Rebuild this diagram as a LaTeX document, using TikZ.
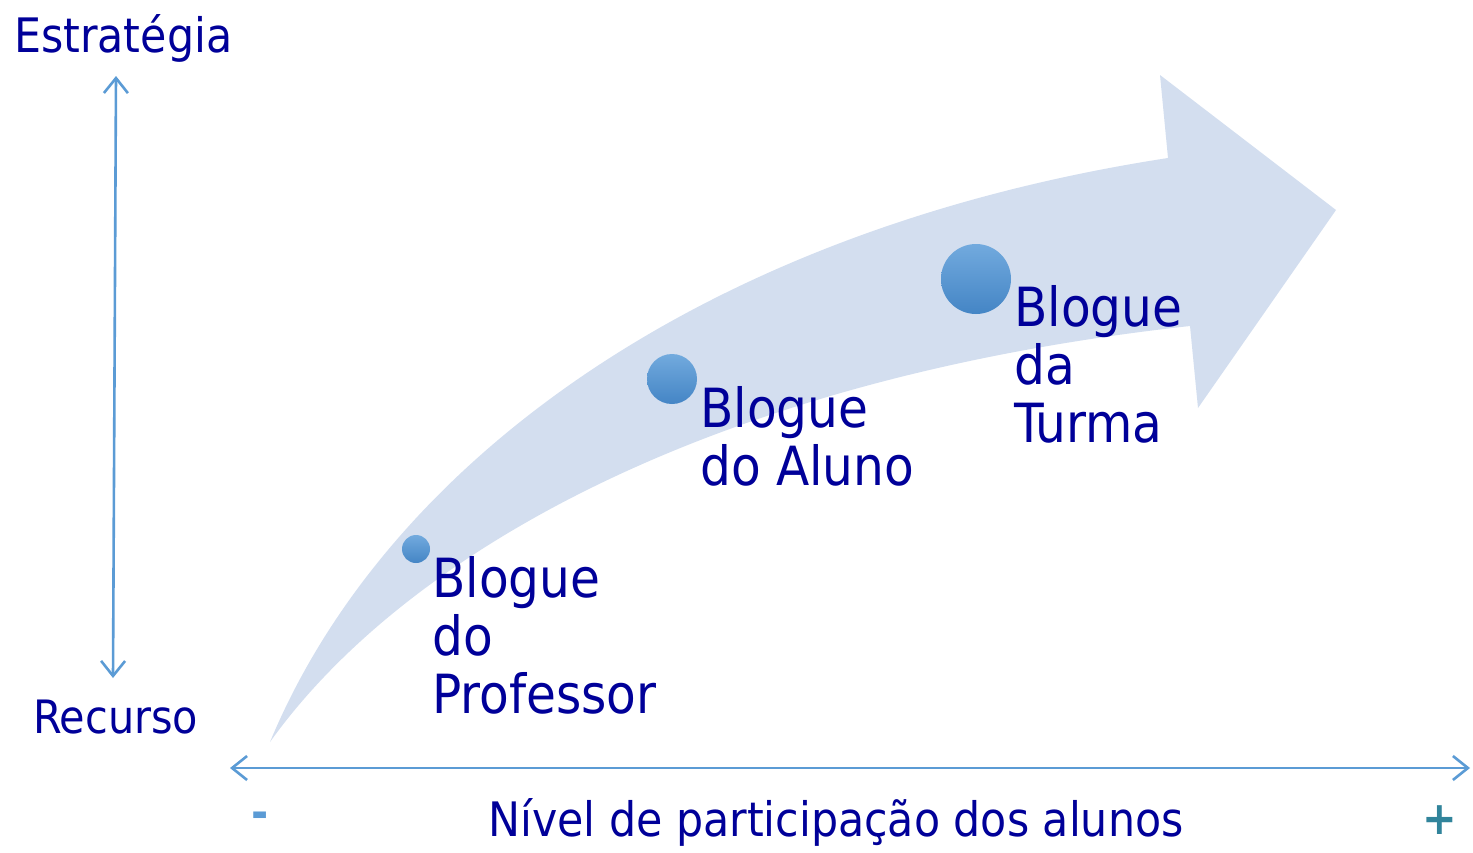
\documentclass[tikz,border=0pt]{standalone}
\usepackage{fontspec}
\setmainfont{DejaVu Sans Condensed}
\usetikzlibrary{arrows.meta}
\definecolor{txt}{RGB}{0,0,153}
\definecolor{axis}{RGB}{91,155,213}
\definecolor{band}{RGB}{211,222,239}
\definecolor{plus}{RGB}{49,132,155}
\definecolor{ctop}{RGB}{114,170,222}
\definecolor{cbot}{RGB}{68,133,197}
\tikzset{
  axisline/.style={draw=axis,line width=2.6pt,{Straight Barb[length=15pt,width=24pt,line width=2.6pt]}-{Straight Barb[length=15pt,width=24pt,line width=2.6pt]}},
  lbl/.style={text=txt,inner sep=0pt,font=\fontsize{47.5}{52}\selectfont},
  blog/.style={text=txt,inner sep=0pt,align=left,anchor=base west,font=\fontsize{54}{58}\selectfont},
  dot/.style={circle,inner sep=0pt,top color=ctop,bottom color=cbot,draw=none},
}
\begin{document}
\begin{tikzpicture}[x=1pt,y=-1pt]
\useasboundingbox (0,0) rectangle (1473,852);
% big curved arrow
\fill[band] (270,742) .. controls (385,465) and (700,230) .. (1168,158)
  -- (1160,75) -- (1336,210) -- (1198,408) -- (1190,326)
  .. controls (700,380) and (400,560) .. (270,742) -- cycle;
% axes
\coordinate (vtop) at (116,76);
\coordinate (vbot) at (113,678);
\draw[axisline] (vbot) -- (vtop);
\coordinate (hl) at (230,768);
\coordinate (hr) at (1470,768);
\draw[axisline] (hl) -- (hr);
% labels
\node[lbl,anchor=base west] (estr) at (14,52) {Estratégia};
\node[lbl,anchor=base west,font=\fontsize{46}{52}\selectfont] (rec) at (33,733) {Recurso};
\node[lbl,anchor=base] (niv) at (836,836) {Nível de participação dos alunos};
\node[text=axis,inner sep=0pt,font=\fontsize{46}{52}\selectfont\bfseries] (minus) at (260,820) {-};
\node[text=plus,inner sep=0pt,font=\fontsize{46}{52}\selectfont\bfseries] (plussign) at (1440,820) {+};
% dots
\node[dot,minimum size=28pt] (d1) at (416,549) {};
\node[dot,minimum size=50pt] (d2) at (672,379) {};
\node[dot,minimum size=70pt] (d3) at (976,279) {};
% blog texts (anchored at the baseline of the last line)
\node[blog] (b1) at (432,713) {Blogue\\do\\Professor};
\node[blog] (b2) at (700,485) {Blogue\\do Aluno};
\node[blog] (b3) at (1014,442) {Blogue\\da\\Turma};
\end{tikzpicture}
\end{document}
